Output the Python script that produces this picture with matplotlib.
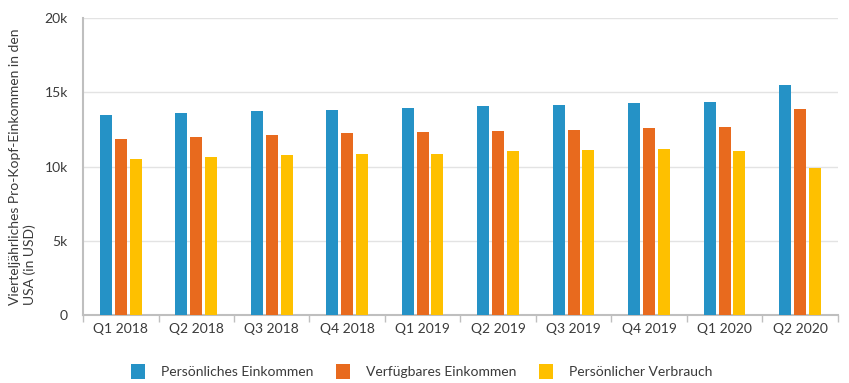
import numpy as np
import matplotlib.pyplot as plt
from matplotlib.patches import Patch

# quarterly data (per-capita, USD)
quarters = ['Q1 2018', 'Q2 2018', 'Q3 2018', 'Q4 2018', 'Q1 2019',
            'Q2 2019', 'Q3 2019', 'Q4 2019', 'Q1 2020', 'Q2 2020']
pers_einkommen = [13450, 13580, 13720, 13780, 13960, 14050, 14120, 14250, 14320, 15470]
verf_einkommen = [11830, 11970, 12100, 12230, 12300, 12370, 12440, 12570, 12640, 13850]
pers_verbrauch = [10480, 10620, 10750, 10820, 10860, 11020, 11090, 11160, 11020, 9880]

series_names = ['Persönliches Einkommen', 'Verfügbares Einkommen', 'Persönlicher Verbrauch']
colors = ['#2592c6', '#e86a1e', '#fec000']

plt.rcParams['font.family'] = ['Lato', 'DejaVu Sans']
text_color = '#3a3a3a'
grid_color = '#e3e3e3'
axis_color = '#bfbfbf'

fig = plt.figure(figsize=(8.49, 3.83), dpi=100)
ax = fig.add_axes([0.0978, 0.1775, 0.889, 0.7755])

x = np.arange(len(quarters))
width = 0.159
pitch = 0.196
for i, (vals, c) in enumerate(zip([pers_einkommen, verf_einkommen, pers_verbrauch], colors)):
    ax.bar(x + (i - 1) * pitch, vals, width, color=c, zorder=3)

ax.set_xlim(-0.5, len(quarters) - 0.5)
ax.set_ylim(0, 20000)
ax.set_yticks([0, 5000, 10000, 15000, 20000])
ax.set_yticklabels(['0', '5k', '10k', '15k', '20k'])
ax.yaxis.grid(True, color=grid_color, linewidth=1, zorder=0)

ax.set_xticks(x)
ax.set_xticklabels(quarters)
ax.set_xticks(np.arange(len(quarters) + 1) - 0.5, minor=True)
ax.tick_params(axis='x', which='major', length=0, pad=6, labelsize=10, labelcolor=text_color)
ax.tick_params(axis='x', which='minor', length=5, color=axis_color, width=1)
ax.tick_params(axis='y', length=0, pad=11, labelsize=10, labelcolor=text_color)

for s in ['top', 'right']:
    ax.spines[s].set_visible(False)
ax.spines['left'].set_color(axis_color)
ax.spines['left'].set_linewidth(1.5)
ax.spines['bottom'].set_color(axis_color)
ax.spines['bottom'].set_linewidth(1.5)

ax.set_ylabel('Vierteljährliches Pro-Kopf-Einkommen in den\nUSA (in USD)',
              fontsize=10, color=text_color, labelpad=6, multialignment='left')

handles = [Patch(facecolor=c, edgecolor='none') for c in colors]
fig.legend(handles, series_names, loc='center', bbox_to_anchor=(0.497, 0.03),
           ncol=3, frameon=False, fontsize=10, labelcolor=text_color,
           handlelength=1.0, handleheight=1.2, columnspacing=1.65, handletextpad=1.15)

fig.savefig('out.png', dpi=100)
